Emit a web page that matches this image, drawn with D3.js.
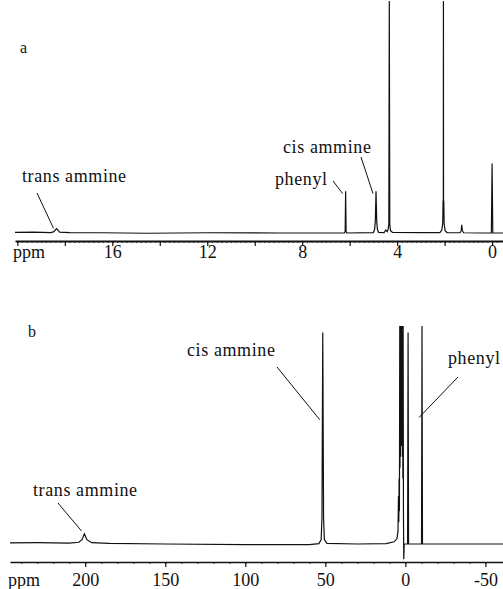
<!DOCTYPE html>
<html>
<head>
<meta charset="utf-8">
<script src="https://cdn.jsdelivr.net/npm/d3@7"></script>
<style>
  body { margin: 0; background: #fff; }
  text { font-family: "Liberation Serif", "DejaVu Serif", serif; fill: #111; }
</style>
</head>
<body>
<div id="chart"></div>
<script>
// 1H spectrum (panel a): [ppm, intensity]
const spectrumA = [
  [20.1, 0.3], [19.3, 0.4], [18.6, 0.2], [18.48, 0.5], [18.41, 1.2], [18.35, 1.9], [18.29, 1.2],
  [18.22, 0.4], [17.8, 0.2], [16.5, 0.1], [14.5, -0.1], [12.0, 0.1], [9.0, 0], [6.22, 0],
  [6.19, 0.6], [6.17, 18], [6.15, 0.6], [6.12, 0], [5.0, 0.2], [4.95, 1.5], [4.92, 5],
  [4.89, 18], [4.86, 5], [4.83, 1.5], [4.78, 0.3], [4.55, 0.2], [4.48, 1.3], [4.42, 0.6],
  [4.38, 1.5], [4.35, 4], [4.33, 100], [4.31, 4], [4.28, 1], [4.2, 0.3], [3.0, 0.2],
  [2.2, 0.2], [2.12, 1.2], [2.08, 4], [2.065, 14], [2.055, 9], [2.05, 100], [2.045, 9],
  [2.035, 14], [2.02, 4], [1.98, 1], [1.9, 0.2], [1.35, 0.1], [1.3, 1], [1.28, 3.5],
  [1.25, 1], [1.2, 0.1], [0.5, 0], [0.03, 0], [0, 30], [-0.03, 0], [-0.46, 0]
];

// panel b spectrum: [ppm, intensity]
const spectrumB = [
  [247, 0.5], [230, 0.6], [210, 0.4], [204, 0.8], [202, 2], [200.5, 4.7], [199, 2], [196, 0.6],
  [185, 0.3], [150, 0], [100, -0.3], [60, -0.3], [54, 0.2], [52.6, 2], [52.1, 12], [51.6, 97],
  [51.1, 12], [50.6, 2], [49, 0.3], [30, 0], [12, 0.2], [7, 1], [5.2, 2.5], [4.6, 6],
  [4.3, 22], [4.1, 10], [3.9, 30], [3.7, 15], [3.5, 100], [3.35, 35], [3.2, 100], [3.05, 40],
  [2.9, 100], [2.75, 45], [2.6, 100], [2.45, 50], [2.3, 100], [2.15, 45], [2.0, 100],
  [1.85, 40], [1.7, 100], [1.55, 30], [1.4, 100], [1.2, 15], [1.0, -7], [0.7, 0],
  [-1.4, 0], [-1.7, 97], [-2.0, 0], [-10.1, 0], [-10.4, 100], [-10.7, 0], [-61, 0]
];

const ticksA = [16, 12, 8, 4, 0];
const ticksB = [200, 150, 100, 50, 0, -50];

// labels: text, peak ppm, intensity where the leader ends, text and leader start
const labelsA = [
  { text: 'trans ammine', ppm: 18.35, at: 2,  tx: 22,  ty: 182, lx: 37,  ly: 193 },
  { text: 'phenyl',       ppm: 6.17,  at: 17, tx: 275, ty: 185, lx: 333, ly: 181 },
  { text: 'cis ammine',   ppm: 4.89,  at: 17, tx: 283, ty: 153, lx: 361, ly: 157 }
];
const labelsB = [
  { text: 'cis ammine',   ppm: 51.6,  at: 57,  tx: 187, ty: 356, lx: 277, ly: 367 },
  { text: 'trans ammine', ppm: 200.5, at: 6,   tx: 33,  ty: 496, lx: 58,  ly: 503 },
  { text: 'phenyl',       ppm: -10.4, at: 58,  tx: 448, ty: 364, lx: 458, ly: 377 }
];

const W = 503, H = 589;
const svg = d3.select('#chart').append('svg')
  .attr('width', W).attr('height', H);

function panel(cfg) {
  const x = d3.scaleLinear().domain(cfg.xDomain).range([cfg.x0, W]);
  const y = d3.scaleLinear().domain([0, 100]).range([cfg.base, cfg.top]);
  const g = svg.append('g');

  g.append('path')
    .datum(cfg.data)
    .attr('d', d3.line().x(d => x(d[0])).y(d => y(d[1])))
    .attr('fill', 'none')
    .attr('stroke', '#111')
    .attr('stroke-width', 1.2);

  // minor ticks
  g.append('g')
    .attr('transform', `translate(0,${cfg.axisY})`)
    .call(d3.axisBottom(x).tickValues(cfg.minor).tickSize(2).tickSizeOuter(0).tickFormat(''))
    .call(a => a.selectAll('line').attr('stroke', '#222'))
    .call(a => a.select('.domain').attr('stroke', '#111').attr('stroke-width', cfg.axisW));
  // mid ticks
  g.append('g')
    .attr('transform', `translate(0,${cfg.axisY})`)
    .call(d3.axisBottom(x).tickValues(cfg.mid).tickSize(5).tickSizeOuter(0).tickFormat(''))
    .call(a => a.select('.domain').remove())
    .call(a => a.selectAll('line').attr('stroke', '#111').attr('stroke-width', 1.2));
  // labels (plain hyphen for negatives, as in the scan)
  g.append('g')
    .attr('transform', `translate(0,${cfg.axisY})`)
    .call(d3.axisBottom(x).tickValues(cfg.ticks).tickSize(0).tickPadding(cfg.pad)
      .tickFormat(d => String(d)))
    .call(a => a.select('.domain').remove())
    .call(a => a.selectAll('text')
      .attr('font-size', 18).attr('font-family', '"Liberation Serif", serif').attr('fill', '#111'));

  g.append('text').attr('x', cfg.x0 - 2).attr('y', cfg.axisY + cfg.pad + 13)
    .attr('font-size', 18).text('ppm');

  g.append('text').attr('x', cfg.tagX).attr('y', cfg.tagY)
    .attr('font-size', 16).text(cfg.tag);

  cfg.labels.forEach(l => {
    g.append('text').attr('x', l.tx).attr('y', l.ty)
      .attr('font-size', 18).attr('letter-spacing', 0.6).text(l.text);
    g.append('line')
      .attr('x1', l.lx).attr('y1', l.ly)
      .attr('x2', x(l.ppm) - 3).attr('y2', y(l.at))
      .attr('stroke', '#111').attr('stroke-width', 1);
  });
}

panel({
  data: spectrumA, xDomain: [20.1, -0.46], x0: 15, base: 233, top: 1,
  axisY: 241, axisW: 2, pad: 4, ticks: ticksA,
  mid: d3.range(20, -0.1, -2), minor: d3.range(20, -0.4, -0.2),
  labels: labelsA, tag: 'a', tagX: 20, tagY: 53
});

panel({
  data: spectrumB, xDomain: [247, -61], x0: 10, base: 544, top: 326,
  axisY: 562, axisW: 1.6, pad: 11, ticks: ticksB,
  mid: d3.range(200, -60, -50), minor: d3.range(240, -60, -10),
  labels: labelsB, tag: 'b', tagX: 28, tagY: 337
});
</script>
</body>
</html>
